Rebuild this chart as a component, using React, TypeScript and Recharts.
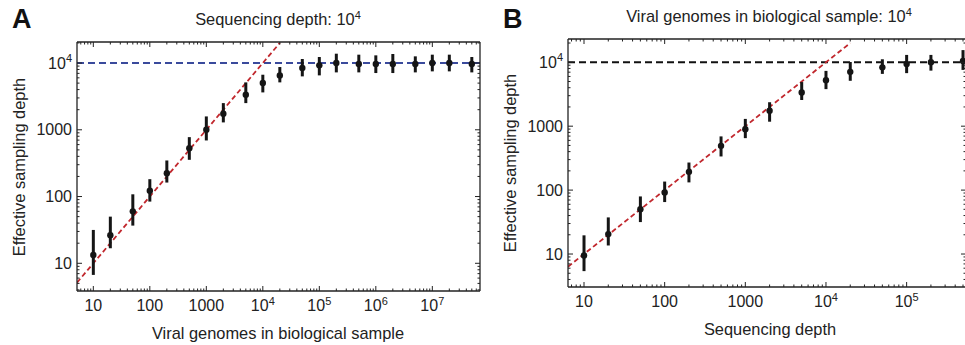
import React from 'react'
import { ScatterChart, Scatter, XAxis, YAxis, ErrorBar, ReferenceLine } from 'recharts'

const FONT = '"Liberation Sans", Arial, Helvetica, sans-serif'
const INK = '#222'

// Panel A: sequencing depth fixed at 10^4
const genomesA = [10, 20, 50, 100, 200, 500, 1000, 2000, 5000, 1e4, 2e4, 5e4, 1e5, 2e5, 5e5, 1e6, 2e6, 5e6, 1e7, 2e7, 5e7]
const meanA = [13.3, 26.3, 60, 122, 224, 531, 1000, 1740, 3350, 5010, 6530, 8410, 9230, 10000, 9660, 9660, 9660, 9660, 10000, 10000, 9660]
const lowA = [6.7, 16.8, 36.7, 84, 162, 355, 692, 1290, 2510, 3630, 5130, 6310, 6530, 7240, 7240, 7080, 7080, 7240, 7500, 7500, 7240]
const highA = [31.6, 50, 108, 182, 347, 776, 1585, 2510, 5130, 6680, 8710, 11480, 12300, 13800, 13340, 13030, 13650, 12590, 13340, 13340, 12300]

// Panel B: viral genomes fixed at 10^4
const depthB = [10, 20, 50, 100, 200, 500, 1000, 2000, 5000, 1e4, 2e4, 5e4, 1e5, 2e5, 5e5]
const meanB = [9.5, 20.5, 50.3, 92, 193, 492, 897, 1740, 3360, 5250, 7080, 8330, 9420, 10000, 10500]
const lowB = [5.4, 13.6, 31.6, 65, 132, 336, 650, 1175, 2570, 3800, 5130, 6580, 6760, 7400, 7590]
const highB = [19.6, 37.4, 79.6, 136, 270, 692, 1300, 2370, 4900, 7330, 10100, 11140, 13030, 13030, 15500]

const plateau = 1e4
const diagonalEnd = 2e4

// major ticks (labelled)
const xMajorA = [1, 10, 100, 1000, 1e4, 1e5, 1e6, 1e7]
const xMajorB = [1, 10, 100, 1000, 1e4, 1e5]
const yMajor = [1, 10, 100, 1000, 1e4]

const domainXA: [number, number] = [10 ** 0.711, 10 ** 7.844]
const domainYA: [number, number] = [10 ** 0.585, 10 ** 4.315]
const domainXB: [number, number] = [10 ** 0.8015, 10 ** 5.736]
const domainYB: [number, number] = [10 ** 0.484, 10 ** 4.364]

const LABEL_SIZE = 16
const TITLE_SIZE = 16.4

// majors plus 2..9 minors, trimmed to the visible range
function withMinors(majors: number[], domain: [number, number]) {
  const out: number[] = []
  majors.forEach(m => {
    for (let k = 1; k <= 9; k++) {
      const v = m * k
      if (v >= domain[0] && v <= domain[1]) out.push(v)
    }
  })
  return out
}

function build(xs: number[], mean: number[], low: number[], high: number[]) {
  return xs.map((x, i) => ({ x, y: mean[i], err: [mean[i] - low[i], high[i] - mean[i]] }))
}

const dataA = build(genomesA, meanA, lowA, highA)
const dataB = build(depthB, meanB, lowB, highB)

function TickLabel({ v, x, y, anchor }: { v: number; x: number; y: number; anchor: 'middle' | 'end' }) {
  const exp = Math.round(Math.log10(v))
  return (
    <text x={x} y={y} textAnchor={anchor} fontSize={LABEL_SIZE} fill={INK} fontFamily={FONT}>
      {exp < 4 ? (
        String(v)
      ) : (
        <>
          <tspan>10</tspan>
          <tspan dy={-6.5} fontSize={11}>{exp}</tspan>
        </>
      )}
    </text>
  )
}

function LogTick(props: any) {
  const { x, y, payload, side, labels } = props
  const v = payload.value
  const lg = Math.log10(v)
  const major = Math.abs(lg - Math.round(lg)) < 1e-6
  const len = major ? 5 : 2.5
  let line
  if (side === 'bottom') line = <line x1={x} x2={x} y1={y} y2={y - len} stroke={INK} strokeWidth={1} />
  else if (side === 'top') line = <line x1={x} x2={x} y1={y} y2={y + len} stroke={INK} strokeWidth={1} />
  else if (side === 'left') line = <line x1={x} x2={x + len} y1={y} y2={y} stroke={INK} strokeWidth={1} />
  else line = <line x1={x} x2={x - len} y1={y} y2={y} stroke={INK} strokeWidth={1} />
  return (
    <g>
      {line}
      {labels && major && side === 'bottom' && <TickLabel v={v} x={x} y={y + 20} anchor="middle" />}
      {labels && major && side === 'left' && <TickLabel v={v} x={x - 5} y={y + 5.5} anchor="end" />}
    </g>
  )
}

interface PanelProps {
  data: { x: number; y: number; err: number[] }[]
  width: number
  margin: { top: number; left: number; right: number; bottom: number }
  domainX: [number, number]
  domainY: [number, number]
  xMajor: number[]
  plateauColor: string
}

function Panel({ data, width, margin, domainX, domainY, xMajor, plateauColor }: PanelProps) {
  const xTicks = withMinors(xMajor, domainX)
  const yTicks = withMinors(yMajor, domainY)
  const axisCommon = {
    type: 'number' as const,
    scale: 'log' as const,
    allowDataOverflow: true,
    tickSize: 0,
    tickMargin: 0,
    tickLine: false,
    interval: 0 as const,
    axisLine: { stroke: INK, strokeWidth: 1.3 },
  }
  // axes take 1px each out of the margins
  const m = { top: margin.top - 1, left: margin.left - 1, right: margin.right - 1, bottom: margin.bottom - 1 }
  return (
    <ScatterChart width={width} height={345} margin={m}>
      <XAxis {...axisCommon} dataKey="x" xAxisId="b" orientation="bottom" height={1} domain={domainX} ticks={xTicks}
        tick={(p: any) => <LogTick {...p} side="bottom" labels />} />
      <XAxis {...axisCommon} dataKey="x" xAxisId="t" orientation="top" height={1} domain={domainX} ticks={xTicks}
        tick={(p: any) => <LogTick {...p} side="top" />} />
      <YAxis {...axisCommon} dataKey="y" yAxisId="l" orientation="left" width={1} domain={domainY} ticks={yTicks}
        tick={(p: any) => <LogTick {...p} side="left" labels />} />
      <YAxis {...axisCommon} dataKey="y" yAxisId="r" orientation="right" width={1} domain={domainY} ticks={yTicks}
        tick={(p: any) => <LogTick {...p} side="right" />} />
      <ReferenceLine xAxisId="b" yAxisId="l" y={plateau} stroke={plateauColor} strokeWidth={2} strokeDasharray="7 4" />
      <ReferenceLine xAxisId="b" yAxisId="l" ifOverflow="hidden"
        segment={[{ x: domainX[0], y: domainX[0] }, { x: diagonalEnd, y: diagonalEnd }]}
        stroke="#c1272d" strokeWidth={1.8} strokeDasharray="5 3" />
      <Scatter xAxisId="b" yAxisId="l" data={data} isAnimationActive={false}
        shape={(p: any) => <circle cx={p.cx} cy={p.cy} r={3.2} fill="#151515" />}>
        <ErrorBar dataKey="err" direction="y" width={0} stroke="#151515" strokeWidth={3} isAnimationActive={false} />
      </Scatter>
      <Scatter xAxisId="t" yAxisId="r" data={data} isAnimationActive={false} shape={() => <g />} />
    </ScatterChart>
  )
}

function Sup({ base, exp }: { base: string; exp: string }) {
  return (
    <>
      <tspan>{base}</tspan>
      <tspan dy={-6.5} fontSize={11}>{exp}</tspan>
    </>
  )
}

export default function App() {
  return (
    <div style={{ position: 'fixed', left: 0, top: 0, width: 965, height: 345, overflow: 'hidden', background: '#fff' }}>
      <div style={{ position: 'absolute', left: 0, top: 0 }}>
        <Panel data={dataA} width={490} margin={{ top: 42, left: 77, right: 10, bottom: 54 }}
          domainX={domainXA} domainY={domainYA} xMajor={xMajorA} plateauColor="#3a4a9c" />
      </div>
      <div style={{ position: 'absolute', left: 490, top: 0 }}>
        <Panel data={dataB} width={480} margin={{ top: 39, left: 78, right: 4, bottom: 58 }}
          domainX={domainXB} domainY={domainYB} xMajor={xMajorB} plateauColor="#111" />
      </div>
      <svg width={965} height={345} style={{ position: 'absolute', left: 0, top: 0, pointerEvents: 'none' }}
        fontFamily={FONT} fill={INK}>
        <text x={12} y={28} fontSize={27} fontWeight="bold" fill="#111">A</text>
        <text x={503} y={28} fontSize={27} fontWeight="bold" fill="#111">B</text>
        <text x={278} y={25} fontSize={TITLE_SIZE} textAnchor="middle"><Sup base="Sequencing depth: 10" exp="4" /></text>
        <text x={769} y={22} fontSize={TITLE_SIZE} textAnchor="middle"><Sup base="Viral genomes in biological sample: 10" exp="4" /></text>
        <text x={278} y={339} fontSize={TITLE_SIZE} textAnchor="middle">Viral genomes in biological sample</text>
        <text x={770} y={335} fontSize={TITLE_SIZE} textAnchor="middle">Sequencing depth</text>
        <text transform="translate(25,167) rotate(-90)" fontSize={TITLE_SIZE} textAnchor="middle">Effective sampling depth</text>
        <text transform="translate(516,163) rotate(-90)" fontSize={TITLE_SIZE} textAnchor="middle">Effective sampling depth</text>
      </svg>
    </div>
  )
}
